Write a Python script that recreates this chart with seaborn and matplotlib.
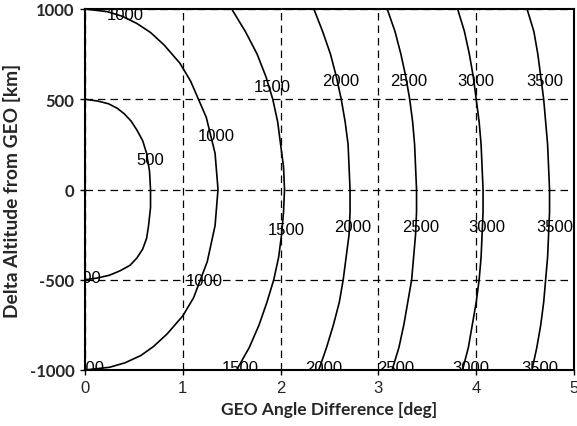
import numpy as np
import pandas as pd
import seaborn as sns
import matplotlib
matplotlib.use("Agg")
import matplotlib.pyplot as plt

# contour levels and points (angle [deg], altitude [km])
levels = [500, 1000, 1500, 2000, 2500, 3000, 3500]

alt_500 = [-500, -490, -475, -450, -420, -380, -330, -270, -200, -100, 0,
           100, 200, 270, 330, 380, 420, 450, 475, 490, 500]
ang_500 = [0.00, 0.13, 0.25, 0.36, 0.46, 0.53, 0.59, 0.63, 0.65, 0.67, 0.67,
           0.66, 0.63, 0.59, 0.53, 0.47, 0.40, 0.33, 0.24, 0.13, 0.00]

alt_1000 = [-1000, -985, -960, -920, -870, -800, -700, -600, -400, -200, 0,
            200, 400, 600, 700, 800, 870, 920, 960, 985, 1000]
ang_1000 = [0.00, 0.25, 0.41, 0.57, 0.70, 0.84, 1.00, 1.11, 1.25, 1.33, 1.36,
            1.33, 1.24, 1.08, 0.97, 0.81, 0.67, 0.53, 0.38, 0.23, 0.00]

alt_grid = [-1000, -875, -750, -625, -500, -375, -250, -125, 0,
            125, 250, 375, 500, 625, 750, 875, 1000]
ang_1500 = [1.55, 1.68, 1.78, 1.86, 1.93, 1.98, 2.01, 2.03, 2.04,
            2.03, 2.00, 1.97, 1.92, 1.85, 1.76, 1.64, 1.50]
ang_2000 = [2.39, 2.47, 2.54, 2.60, 2.64, 2.67, 2.70, 2.71, 2.71,
            2.70, 2.69, 2.66, 2.62, 2.57, 2.51, 2.43, 2.34]
ang_2500 = [3.14, 3.21, 3.26, 3.30, 3.34, 3.36, 3.38, 3.39, 3.39,
            3.38, 3.37, 3.35, 3.32, 3.28, 3.23, 3.17, 3.09]
ang_3000 = [3.86, 3.92, 3.96, 4.00, 4.03, 4.05, 4.06, 4.07, 4.07,
            4.06, 4.05, 4.03, 4.00, 3.97, 3.93, 3.88, 3.81]
ang_3500 = [4.57, 4.62, 4.66, 4.69, 4.71, 4.73, 4.74, 4.75, 4.75,
            4.74, 4.73, 4.71, 4.69, 4.66, 4.63, 4.59, 4.52]

# inline contour labels (level, angle, altitude of the text centre)
lab_level = [500, 500, 1000, 1000, 1000, 1000,
             1500, 1500, 1500, 2000, 2000, 2000, 2500, 2500, 2500,
             3000, 3000, 3000, 3500, 3500, 3500]
lab_ang = [0.67, 0.02, 0.41, 1.34, 1.22, 0.01,
           1.91, 2.06, 1.59, 2.61, 2.74, 2.44, 3.31, 3.43, 3.18,
           4.00, 4.11, 3.94, 4.70, 4.80, 4.65]
lab_alt = [167, -490, 970, 300, -505, -988,
           573, -220, -985, 604, -203, -985, 604, -203, -985,
           604, -203, -985, 604, -203, -985]

x_ticks = [0, 1, 2, 3, 4, 5]
y_ticks = [-1000, -500, 0, 500, 1000]

# long table for seaborn
curves = {500: (ang_500, alt_500), 1000: (ang_1000, alt_1000),
          1500: (ang_1500, alt_grid), 2000: (ang_2000, alt_grid),
          2500: (ang_2500, alt_grid), 3000: (ang_3000, alt_grid),
          3500: (ang_3500, alt_grid)}
frames = []
for lv in levels:
    a, h = curves[lv]
    frames.append(pd.DataFrame({"angle": a, "alt": h, "level": lv}))
df = pd.concat(frames, ignore_index=True)

sns.set_theme(style="white")
plt.rcParams["font.family"] = ["Liberation Sans", "DejaVu Sans"]

fig = plt.figure(figsize=(5.77, 4.27), dpi=100)
ax = fig.add_axes([85 / 577, 1 - 371 / 427, 489 / 577, 361 / 427])

sns.lineplot(data=df, x="angle", y="alt", units="level", estimator=None,
             sort=False, color="black", linewidth=1.2, legend=False, ax=ax)

for lv, xa, ya in zip(lab_level, lab_ang, lab_alt):
    ax.text(xa, ya, str(lv), ha="center", va="center", fontsize=12,
            color="black", clip_on=True, zorder=2.2)

ax.set_xlim(0, 5)
ax.set_ylim(-1000, 1000)
ax.set_xticks(x_ticks)
ax.set_yticks(y_ticks)
ax.set_xticklabels([str(t) for t in x_ticks], fontsize=12)
ax.set_yticklabels([str(t) for t in y_ticks], fontsize=12,
                   family="Lato", fontweight="bold")
ax.tick_params(axis="both", direction="out", length=3.5, width=1,
               color="black", bottom=True, left=True, pad=4)

ax.set_axisbelow(False)
ax.grid(True, color="black", linestyle=(0, (6, 4)), linewidth=0.9)
for g in ax.get_xgridlines() + ax.get_ygridlines():
    g.set_zorder(2.5)

for sp in ax.spines.values():
    sp.set_color("black")
    sp.set_linewidth(1.5)

ax.set_xlabel("GEO Angle Difference [deg]", fontsize=12.5, family="Lato",
              fontweight="bold", labelpad=4)
ax.set_ylabel("Delta Altitude from GEO [km]", fontsize=13.8, family="Lato",
              fontweight="bold", labelpad=6)

plt.savefig("out.png", dpi=100)
